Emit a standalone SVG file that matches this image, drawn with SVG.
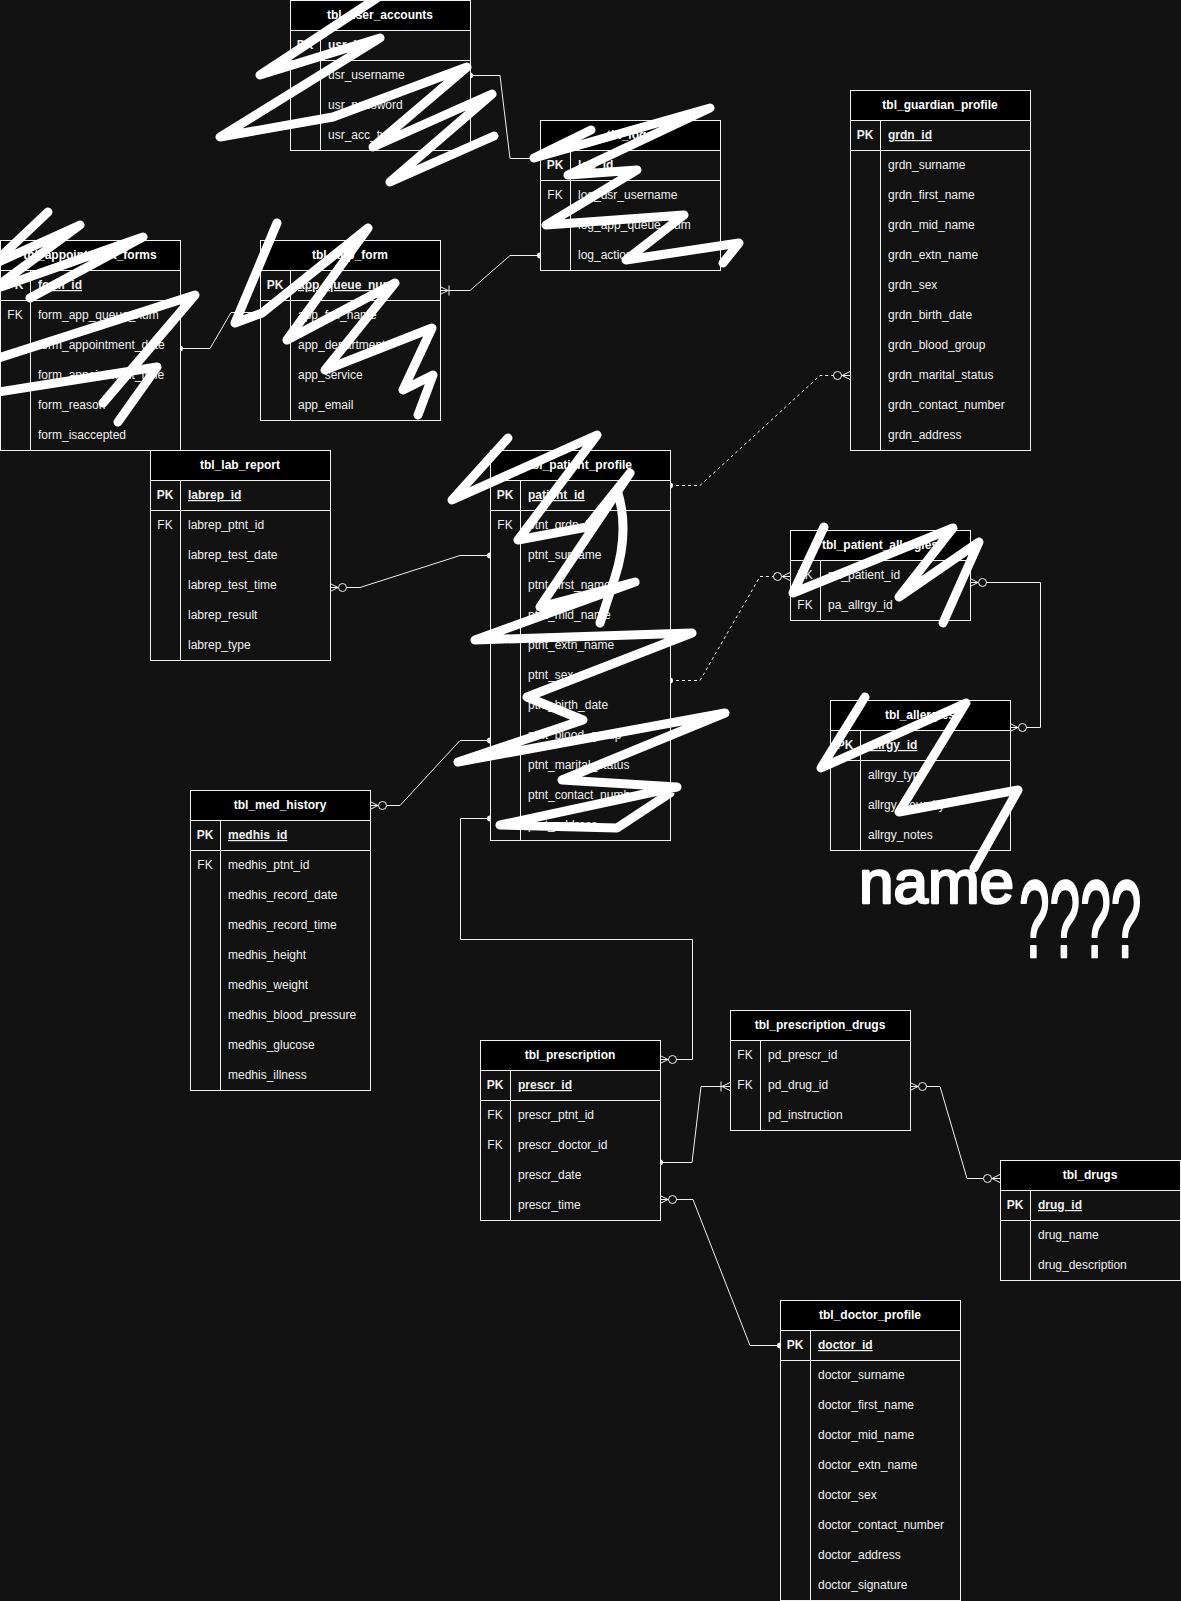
<svg xmlns="http://www.w3.org/2000/svg" width="1181" height="1601" viewBox="0 0 1181 1601">
<style>
.tb{fill:#121212;stroke:#f0f0f0;stroke-width:1}
.hd{fill:#000;stroke:#f0f0f0;stroke-width:1}
.dv{stroke:#f0f0f0;stroke-width:1}
text{font-family:"Liberation Sans",Arial,sans-serif;font-size:12px}
.ht{font-weight:bold;fill:#fff;text-anchor:middle}
.k{fill:#f0f0f0;text-anchor:middle}
.kp{fill:#f0f0f0;text-anchor:middle;font-weight:bold}
.f{fill:#f0f0f0}
.fp{fill:#f0f0f0;font-weight:bold;text-decoration:underline}
.cn{fill:none;stroke:#f0f0f0;stroke-width:1}
.ds{stroke-dasharray:3 3}
.sc{fill:none;stroke:#fff;stroke-width:9;stroke-linecap:round;stroke-linejoin:round}
text.hw{font-family:"Liberation Sans",Arial,sans-serif;fill:#fff;stroke:#fff;stroke-width:2.5;stroke-linejoin:round}
text.hw1{font-size:62px}
text.hw2{font-size:110px}
</style>
<defs>
<marker id="dot" markerUnits="userSpaceOnUse" orient="auto" overflow="visible" markerWidth="8" markerHeight="8" refX="0" refY="0">
<circle cx="0" cy="0" r="3" fill="#f0f0f0"/>
</marker>
<marker id="ztm" markerUnits="userSpaceOnUse" orient="auto-start-reverse" overflow="visible" markerWidth="20" markerHeight="10" refX="0" refY="0">
<path d="M-8,0L0,-4M-8,0L0,4M-8,0H0" fill="none" stroke="#f0f0f0" stroke-width="1"/>
<circle cx="-12.5" cy="0" r="4" fill="#121212" stroke="#f0f0f0" stroke-width="1"/>
</marker>
<marker id="otm" markerUnits="userSpaceOnUse" orient="auto-start-reverse" overflow="visible" markerWidth="20" markerHeight="10" refX="0" refY="0">
<path d="M-8,0L0,-4M-8,0L0,4M-8,0H0M-9,-5V5" fill="none" stroke="#f0f0f0" stroke-width="1"/>
</marker>
</defs>
<rect x="0" y="0" width="1181" height="1601" fill="#121212"/>

<g id="connectors">
<path class="cn" d="M470,75.5H500L510,158.5H540" marker-start="url(#dot)"/>
<path class="cn" d="M180,348.5H210L231,312.5H260" marker-start="url(#dot)"/>
<path class="cn" d="M540,255.5H510L470,290.5H440" marker-start="url(#dot)" marker-end="url(#otm)"/>
<path class="cn" d="M490,555.5H460L360,587.5H330" marker-start="url(#dot)" marker-end="url(#ztm)"/>
<path class="cn" d="M490,740.5H460L400,805.5H370" marker-start="url(#dot)" marker-end="url(#ztm)"/>
<path class="cn" d="M490,818.5H460.5V939.5H692.5V1059.5H660" marker-start="url(#dot)" marker-end="url(#ztm)"/>
<path class="cn ds" d="M670,485.5H700L820,375.5H850" marker-start="url(#dot)" marker-end="url(#ztm)"/>
<path class="cn ds" d="M670,680.5H700L760,576.5H790" marker-start="url(#dot)" marker-end="url(#ztm)"/>
<path class="cn" d="M970,582.5H1040.5V727.5H1010" marker-start="url(#ztm)" marker-end="url(#ztm)"/>
<path class="cn" d="M910,1086.5H940L967,1178.5H1000" marker-start="url(#ztm)" marker-end="url(#ztm)"/>
<path class="cn" d="M660,1162.5H692L701,1086.5H730" marker-start="url(#dot)" marker-end="url(#otm)"/>
<path class="cn" d="M660,1199.5H693L750,1345.5H780" marker-start="url(#ztm)" marker-end="url(#dot)"/>
</g>

<g id="tbl_user_accounts">
<rect class="tb" x="290.5" y="0.5" width="180" height="150"/>
<rect class="hd" x="290.5" y="0.5" width="180" height="30"/>
<text class="ht" x="380" y="19">tbl_user_accounts</text>
<line class="dv" x1="320.5" y1="30.5" x2="320.5" y2="150.5"/>
<line class="dv" x1="290.5" y1="60.5" x2="470.5" y2="60.5"/>
<text class="kp" x="305" y="49">PK</text><text class="fp" x="328" y="49">usr_id</text>
<text class="f" x="328" y="79">usr_username</text>
<text class="f" x="328" y="109">usr_password</text>
<text class="f" x="328" y="139">usr_acc_type</text>
</g>

<g id="tbl_logs">
<rect class="tb" x="540.5" y="120.5" width="180" height="150"/>
<rect class="hd" x="540.5" y="120.5" width="180" height="30"/>
<text class="ht" x="630" y="139">tbl_logs</text>
<line class="dv" x1="570.5" y1="150.5" x2="570.5" y2="270.5"/>
<line class="dv" x1="540.5" y1="180.5" x2="720.5" y2="180.5"/>
<text class="kp" x="555" y="169">PK</text><text class="fp" x="578" y="169">log_id</text>
<text class="k" x="555" y="199">FK</text><text class="f" x="578" y="199">log_usr_username</text>
<text class="f" x="578" y="229">log_app_queue_num</text>
<text class="f" x="578" y="259">log_action</text>
</g>

<g id="tbl_guardian_profile">
<rect class="tb" x="850.5" y="90.5" width="180" height="360"/>
<rect class="hd" x="850.5" y="90.5" width="180" height="30"/>
<text class="ht" x="940" y="109">tbl_guardian_profile</text>
<line class="dv" x1="880.5" y1="120.5" x2="880.5" y2="450.5"/>
<line class="dv" x1="850.5" y1="150.5" x2="1030.5" y2="150.5"/>
<text class="kp" x="865" y="139">PK</text><text class="fp" x="888" y="139">grdn_id</text>
<text class="f" x="888" y="169">grdn_surname</text>
<text class="f" x="888" y="199">grdn_first_name</text>
<text class="f" x="888" y="229">grdn_mid_name</text>
<text class="f" x="888" y="259">grdn_extn_name</text>
<text class="f" x="888" y="289">grdn_sex</text>
<text class="f" x="888" y="319">grdn_birth_date</text>
<text class="f" x="888" y="349">grdn_blood_group</text>
<text class="f" x="888" y="379">grdn_marital_status</text>
<text class="f" x="888" y="409">grdn_contact_number</text>
<text class="f" x="888" y="439">grdn_address</text>
</g>

<g id="tbl_appointment_forms">
<rect class="tb" x="0.5" y="240.5" width="180" height="210"/>
<rect class="hd" x="0.5" y="240.5" width="180" height="30"/>
<text class="ht" x="90" y="259">tbl_appointment_forms</text>
<line class="dv" x1="30.5" y1="270.5" x2="30.5" y2="450.5"/>
<line class="dv" x1="0.5" y1="300.5" x2="180.5" y2="300.5"/>
<text class="kp" x="15" y="289">PK</text><text class="fp" x="38" y="289">form_id</text>
<text class="k" x="15" y="319">FK</text><text class="f" x="38" y="319">form_app_queue_num</text>
<text class="f" x="38" y="349">form_appointment_date</text>
<text class="f" x="38" y="379">form_appointment_time</text>
<text class="f" x="38" y="409">form_reason</text>
<text class="f" x="38" y="439">form_isaccepted</text>
</g>

<g id="tbl_app_form">
<rect class="tb" x="260.5" y="240.5" width="180" height="180"/>
<rect class="hd" x="260.5" y="240.5" width="180" height="30"/>
<text class="ht" x="350" y="259">tbl_app_form</text>
<line class="dv" x1="290.5" y1="270.5" x2="290.5" y2="420.5"/>
<line class="dv" x1="260.5" y1="300.5" x2="440.5" y2="300.5"/>
<text class="kp" x="275" y="289">PK</text><text class="fp" x="298" y="289">app_queue_num</text>
<text class="f" x="298" y="319">app_full_name</text>
<text class="f" x="298" y="349">app_department</text>
<text class="f" x="298" y="379">app_service</text>
<text class="f" x="298" y="409">app_email</text>
</g>

<g id="tbl_lab_report">
<rect class="tb" x="150.5" y="450.5" width="180" height="210"/>
<rect class="hd" x="150.5" y="450.5" width="180" height="30"/>
<text class="ht" x="240" y="469">tbl_lab_report</text>
<line class="dv" x1="180.5" y1="480.5" x2="180.5" y2="660.5"/>
<line class="dv" x1="150.5" y1="510.5" x2="330.5" y2="510.5"/>
<text class="kp" x="165" y="499">PK</text><text class="fp" x="188" y="499">labrep_id</text>
<text class="k" x="165" y="529">FK</text><text class="f" x="188" y="529">labrep_ptnt_id</text>
<text class="f" x="188" y="559">labrep_test_date</text>
<text class="f" x="188" y="589">labrep_test_time</text>
<text class="f" x="188" y="619">labrep_result</text>
<text class="f" x="188" y="649">labrep_type</text>
</g>

<g id="tbl_patient_profile">
<rect class="tb" x="490.5" y="450.5" width="180" height="390"/>
<rect class="hd" x="490.5" y="450.5" width="180" height="30"/>
<text class="ht" x="580" y="469">tbl_patient_profile</text>
<line class="dv" x1="520.5" y1="480.5" x2="520.5" y2="840.5"/>
<line class="dv" x1="490.5" y1="510.5" x2="670.5" y2="510.5"/>
<text class="kp" x="505" y="499">PK</text><text class="fp" x="528" y="499">patient_id</text>
<text class="k" x="505" y="529">FK</text><text class="f" x="528" y="529">ptnt_grdn_id</text>
<text class="f" x="528" y="559">ptnt_surname</text>
<text class="f" x="528" y="589">ptnt_first_name</text>
<text class="f" x="528" y="619">ptnt_mid_name</text>
<text class="f" x="528" y="649">ptnt_extn_name</text>
<text class="f" x="528" y="679">ptnt_sex</text>
<text class="f" x="528" y="709">ptnt_birth_date</text>
<text class="f" x="528" y="739">ptnt_blood_group</text>
<text class="f" x="528" y="769">ptnt_marital_status</text>
<text class="f" x="528" y="799">ptnt_contact_number</text>
<text class="f" x="528" y="829">ptnt_address</text>
</g>

<g id="tbl_patient_allergies">
<rect class="tb" x="790.5" y="530.5" width="180" height="90"/>
<rect class="hd" x="790.5" y="530.5" width="180" height="30"/>
<text class="ht" x="880" y="549">tbl_patient_allergies</text>
<line class="dv" x1="820.5" y1="560.5" x2="820.5" y2="620.5"/>
<text class="k" x="805" y="579">FK</text><text class="f" x="828" y="579">pa_patient_id</text>
<text class="k" x="805" y="609">FK</text><text class="f" x="828" y="609">pa_allrgy_id</text>
</g>

<g id="tbl_allergies">
<rect class="tb" x="830.5" y="700.5" width="180" height="150"/>
<rect class="hd" x="830.5" y="700.5" width="180" height="30"/>
<text class="ht" x="920" y="719">tbl_allergies</text>
<line class="dv" x1="860.5" y1="730.5" x2="860.5" y2="850.5"/>
<line class="dv" x1="830.5" y1="760.5" x2="1010.5" y2="760.5"/>
<text class="kp" x="845" y="749">PK</text><text class="fp" x="868" y="749">allrgy_id</text>
<text class="f" x="868" y="779">allrgy_type</text>
<text class="f" x="868" y="809">allrgy_severity</text>
<text class="f" x="868" y="839">allrgy_notes</text>
</g>

<g id="tbl_med_history">
<rect class="tb" x="190.5" y="790.5" width="180" height="300"/>
<rect class="hd" x="190.5" y="790.5" width="180" height="30"/>
<text class="ht" x="280" y="809">tbl_med_history</text>
<line class="dv" x1="220.5" y1="820.5" x2="220.5" y2="1090.5"/>
<line class="dv" x1="190.5" y1="850.5" x2="370.5" y2="850.5"/>
<text class="kp" x="205" y="839">PK</text><text class="fp" x="228" y="839">medhis_id</text>
<text class="k" x="205" y="869">FK</text><text class="f" x="228" y="869">medhis_ptnt_id</text>
<text class="f" x="228" y="899">medhis_record_date</text>
<text class="f" x="228" y="929">medhis_record_time</text>
<text class="f" x="228" y="959">medhis_height</text>
<text class="f" x="228" y="989">medhis_weight</text>
<text class="f" x="228" y="1019">medhis_blood_pressure</text>
<text class="f" x="228" y="1049">medhis_glucose</text>
<text class="f" x="228" y="1079">medhis_illness</text>
</g>

<g id="tbl_prescription_drugs">
<rect class="tb" x="730.5" y="1010.5" width="180" height="120"/>
<rect class="hd" x="730.5" y="1010.5" width="180" height="30"/>
<text class="ht" x="820" y="1029">tbl_prescription_drugs</text>
<line class="dv" x1="760.5" y1="1040.5" x2="760.5" y2="1130.5"/>
<text class="k" x="745" y="1059">FK</text><text class="f" x="768" y="1059">pd_prescr_id</text>
<text class="k" x="745" y="1089">FK</text><text class="f" x="768" y="1089">pd_drug_id</text>
<text class="f" x="768" y="1119">pd_instruction</text>
</g>

<g id="tbl_prescription">
<rect class="tb" x="480.5" y="1040.5" width="180" height="180"/>
<rect class="hd" x="480.5" y="1040.5" width="180" height="30"/>
<text class="ht" x="570" y="1059">tbl_prescription</text>
<line class="dv" x1="510.5" y1="1070.5" x2="510.5" y2="1220.5"/>
<line class="dv" x1="480.5" y1="1100.5" x2="660.5" y2="1100.5"/>
<text class="kp" x="495" y="1089">PK</text><text class="fp" x="518" y="1089">prescr_id</text>
<text class="k" x="495" y="1119">FK</text><text class="f" x="518" y="1119">prescr_ptnt_id</text>
<text class="k" x="495" y="1149">FK</text><text class="f" x="518" y="1149">prescr_doctor_id</text>
<text class="f" x="518" y="1179">prescr_date</text>
<text class="f" x="518" y="1209">prescr_time</text>
</g>

<g id="tbl_drugs">
<rect class="tb" x="1000.5" y="1160.5" width="180" height="120"/>
<rect class="hd" x="1000.5" y="1160.5" width="180" height="30"/>
<text class="ht" x="1090" y="1179">tbl_drugs</text>
<line class="dv" x1="1030.5" y1="1190.5" x2="1030.5" y2="1280.5"/>
<line class="dv" x1="1000.5" y1="1220.5" x2="1180.5" y2="1220.5"/>
<text class="kp" x="1015" y="1209">PK</text><text class="fp" x="1038" y="1209">drug_id</text>
<text class="f" x="1038" y="1239">drug_name</text>
<text class="f" x="1038" y="1269">drug_description</text>
</g>

<g id="tbl_doctor_profile">
<rect class="tb" x="780.5" y="1300.5" width="180" height="300"/>
<rect class="hd" x="780.5" y="1300.5" width="180" height="30"/>
<text class="ht" x="870" y="1319">tbl_doctor_profile</text>
<line class="dv" x1="810.5" y1="1330.5" x2="810.5" y2="1600.5"/>
<line class="dv" x1="780.5" y1="1360.5" x2="960.5" y2="1360.5"/>
<text class="kp" x="795" y="1349">PK</text><text class="fp" x="818" y="1349">doctor_id</text>
<text class="f" x="818" y="1379">doctor_surname</text>
<text class="f" x="818" y="1409">doctor_first_name</text>
<text class="f" x="818" y="1439">doctor_mid_name</text>
<text class="f" x="818" y="1469">doctor_extn_name</text>
<text class="f" x="818" y="1499">doctor_sex</text>
<text class="f" x="818" y="1529">doctor_contact_number</text>
<text class="f" x="818" y="1559">doctor_address</text>
<text class="f" x="818" y="1589">doctor_signature</text>
</g>

<g id="scribbles">
<path class="sc" d="M377,-2L260,75L380,38L220,137L333,117L467,67L373,147L492,94L390,182L494,136"/>
<path class="sc" d="M591,130L534,158L710,108L568,175L637,170L546,225L684,215L626,260L739,243L723,263"/>
<path class="sc" d="M48,212L-8,265L80,225L-8,290L143,237L30,298"/>
<path class="sc" d="M-8,360L195,295L103,403"/>
<path class="sc" d="M-8,393L157,367L118,422"/>
<path class="sc" d="M277,223L235,323L262,313L368,228L287,340L395,283L325,370L432,328L403,390L433,375L418,415"/>
<path class="sc" d="M508,438L452,500L597,435L518,540L587,527L630,473L540,607L635,582L475,640L692,633L527,697L583,720L458,762L725,713L562,780L677,787L500,825L617,828L670,793"/>
<path class="sc" d="M617,490Q630,530 615,577L600,623"/>
<path class="sc" d="M824,527L793,593L953,528L899,597L979,542L943,623"/>
<path class="sc" d="M865,697L821,768L966,703L899,812L1018,790L974,868"/>
</g>

<g id="handwriting">
<text class="hw hw1" x="859" y="903">name</text>
<text class="hw hw2" transform="translate(1019,957) scale(0.5,1)" x="0" y="0">????</text>
</g>
</svg>
